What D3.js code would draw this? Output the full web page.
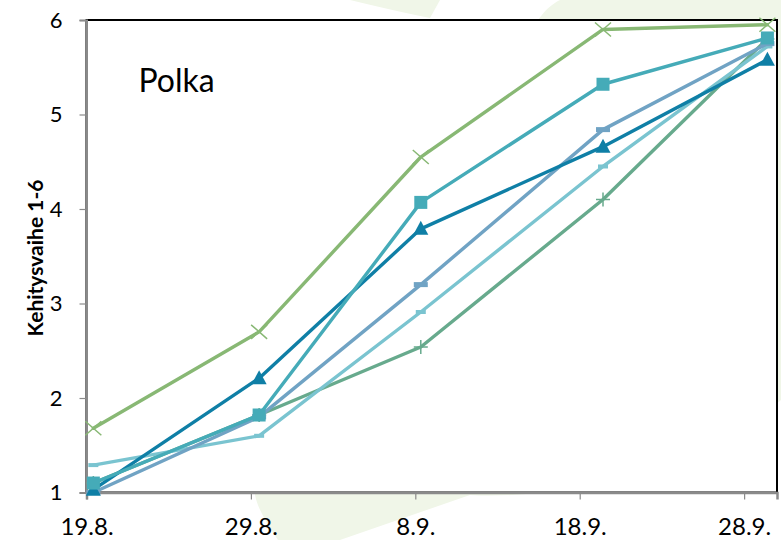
<!DOCTYPE html>
<html>
<head>
<meta charset="utf-8">
<script src="https://cdn.jsdelivr.net/npm/d3@7.9.0/dist/d3.min.js"></script>
<style>
  body { margin: 0; background: #fff; }
  svg { display: block; font-family: Lato, "Open Sans", sans-serif; }
</style>
</head>
<body>
<svg width="781" height="540"></svg>
<script>
// measurement dates (points sit a bit after the midnight ticks)
const dates = ["2012-08-19T10:00", "2012-08-29T12:00", "2012-09-08T08:00", "2012-09-19T10:00", "2012-09-29T10:00"];
const tickDates = ["2012-08-19", "2012-08-29", "2012-09-08", "2012-09-18", "2012-09-28"];
const yTicks = [1, 2, 3, 4, 5, 6];

// development stage values per line
const seriesCross = [1.68, 2.70, 4.55, 5.90, 5.95];
const seriesSquare = [1.10, 1.82, 4.07, 5.32, 5.81];
const seriesTriangle = [1.03, 2.21, 3.79, 4.66, 5.58];
const seriesDash = [1.00, 1.80, 3.20, 4.84, 5.75];
const seriesLight = [1.29, 1.60, 2.91, 4.45, 5.72];
const seriesPlus = [1.10, 1.82, 2.54, 4.10, 5.80];

const series = [
  { values: seriesPlus, color: "#67aa8d", marker: "plus" },
  { values: seriesLight, color: "#7ac4d0", marker: "smalldash" },
  { values: seriesDash, color: "#70a3c4", marker: "dash" },
  { values: seriesTriangle, color: "#0f7fa6", marker: "triangle" },
  { values: seriesSquare, color: "#45abb8", marker: "square" },
  { values: seriesCross, color: "#88b874", marker: "cross" }
];

const parse = d3.utcParse("%Y-%m-%dT%H:%M");
const parseDay = d3.utcParse("%Y-%m-%d");

const svg = d3.select("svg");
const margin = { top: 20, right: 4, bottom: 47.5, left: 86.5 };
const width = 781 - margin.left - margin.right;
const height = 540 - margin.top - margin.bottom;

// faint leaf watermark behind the chart
const wm = "#f0f6e8";
svg.append("path")
  .attr("fill", wm)
  .attr("d", "M255,495 C250,400 330,250 460,150 C560,75 680,25 781,0 L781,400 C700,470 560,500 470,495 L340,540 L278,540 C268,525 258,510 255,495 Z");
svg.append("path")
  .attr("fill", wm)
  .attr("d", "M350,0 L440,0 L430,18 C400,12 375,6 350,0 Z");
svg.append("path")
  .attr("fill", wm)
  .attr("d", "M538,20 C545,10 552,4 560,0 L781,0 L781,20 Z");

const g = svg.append("g").attr("transform", `translate(${margin.left},${margin.top})`);

const x = d3.scaleUtc()
  .domain([parseDay("2012-08-19"), parseDay("2012-09-30")])
  .range([0, width]);
const y = d3.scaleLinear().domain([1, 6]).range([height, 0]);

g.append("rect")
  .attr("width", width).attr("height", height)
  .attr("fill", "#fff")
  .attr("stroke", "#000").attr("stroke-width", 2);

// y axis
const yAxis = g.append("g")
  .call(d3.axisLeft(y).tickValues(yTicks).tickSize(7).tickFormat(d3.format("d")));
yAxis.select(".domain").attr("stroke", "#8a8a8a").attr("stroke-width", 2);
yAxis.selectAll(".tick line").attr("stroke", "#8a8a8a").attr("stroke-width", 1.2);
yAxis.selectAll(".tick text")
  .attr("x", -24).attr("fill", "#000")
  .style("font-size", "22px").style("font-family", "Lato, sans-serif");

// x axis
const xAxis = g.append("g")
  .attr("transform", `translate(0,${height})`)
  .call(d3.axisBottom(x).tickValues(tickDates.map(parseDay)).tickSize(7).tickFormat(d3.utcFormat("%-d.%-m.")));
xAxis.select(".domain").attr("stroke", "#8a8a8a").attr("stroke-width", 2.5);
xAxis.selectAll(".tick line").attr("stroke", "#8a8a8a").attr("stroke-width", 1.2);
xAxis.selectAll(".tick text")
  .attr("y", 25).attr("dy", "0.71em").attr("fill", "#000")
  .style("font-size", "24px").style("font-family", "Lato, sans-serif");

// y title
svg.append("text")
  .attr("transform", `translate(43,258) rotate(-90)`)
  .attr("text-anchor", "middle")
  .style("font-size", "21px").style("font-weight", "bold")
  .text("Kehitysvaihe 1-6");

g.append("text")
  .attr("x", 52).attr("y", 72)
  .style("font-size", "32px")
  .text("Polka");

const line = d3.line()
  .x((d, i) => x(parse(dates[i])))
  .y(d => y(d));

series.forEach(s => {
  g.append("path")
    .datum(s.values)
    .attr("fill", "none")
    .attr("stroke", s.color)
    .attr("stroke-width", 3.4)
    .attr("stroke-linecap", "round")
    .attr("stroke-linejoin", "round")
    .attr("d", line);

  const m = g.append("g").selectAll("g")
    .data(s.values)
    .join("g")
    .attr("transform", (d, i) => `translate(${x(parse(dates[i]))},${y(d)})`);

  if (s.marker === "square") {
    m.append("rect").attr("x", -6.5).attr("y", -6.5).attr("width", 13).attr("height", 13).attr("fill", s.color);
  } else if (s.marker === "triangle") {
    m.append("path").attr("d", "M0,-8 L7.5,6 L-7.5,6 Z").attr("fill", s.color);
  } else if (s.marker === "cross") {
    m.append("path").attr("d", "M-8,-7 L8,7 M-8,7 L8,-7").attr("stroke", s.color).attr("stroke-width", 1.5);
  } else if (s.marker === "plus") {
    m.append("path").attr("d", "M-7,0 L7,0 M0,-7 L0,7").attr("stroke", s.color).attr("stroke-width", 1.5);
  } else if (s.marker === "dash") {
    m.append("rect").attr("x", -7).attr("y", -2.5).attr("width", 14).attr("height", 5).attr("fill", s.color);
  } else if (s.marker === "smalldash") {
    m.append("rect").attr("x", -5).attr("y", -2).attr("width", 10).attr("height", 4).attr("fill", s.color);
  }
});
</script>
</body>
</html>
